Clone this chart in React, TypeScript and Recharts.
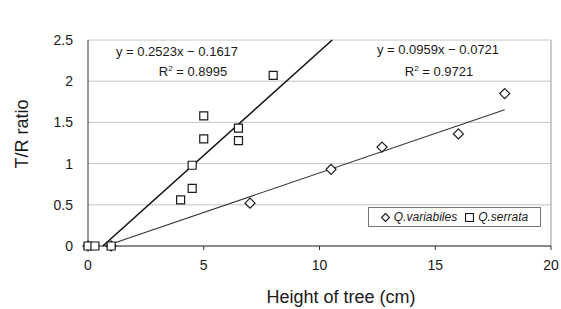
import React from "react";
import {
  ScatterChart,
  Scatter,
  XAxis,
  YAxis,
  ZAxis,
  CartesianGrid,
  ReferenceLine,
  Legend,
} from "recharts";

// ---- data ----
const serrataX = [0, 0.3, 1, 4, 4.5, 4.5, 5, 5, 6.5, 6.5, 8];
const serrataY = [0, 0, 0, 0.56, 0.7, 0.98, 1.3, 1.58, 1.43, 1.28, 2.07];
const variabilesX = [0, 1, 7, 10.5, 12.7, 16, 18];
const variabilesY = [0, 0, 0.52, 0.93, 1.2, 1.36, 1.85];

const serrataFit = { slope: 0.2523, intercept: -0.1617, r2: 0.8995 };
const variabilesFit = { slope: 0.0959, intercept: -0.0721, r2: 0.9721 };

const xTicks = [0, 5, 10, 15, 20];
const yTicks = [0, 0.5, 1, 1.5, 2, 2.5];
const X_MAX = 20;
const Y_MAX = 2.5;

const serrataData = serrataX.map((x, i) => ({ x, y: serrataY[i] }));
const variabilesData = variabilesX.map((x, i) => ({ x, y: variabilesY[i] }));

function fitLine(fit: { slope: number; intercept: number }, xs: number[], extendToTop: boolean) {
  const x0 = Math.max(Math.min(...xs), -fit.intercept / fit.slope);
  const x1 = extendToTop ? (Y_MAX - fit.intercept) / fit.slope : Math.max(...xs);
  return [
    { x: x0, y: fit.slope * x0 + fit.intercept },
    { x: x1, y: fit.slope * x1 + fit.intercept },
  ];
}

const serrataTrend = fitLine(serrataFit, serrataX, true);
const variabilesTrend = fitLine(variabilesFit, variabilesX, false);

const FONT = "'Liberation Sans', Arial, sans-serif";
const INK = "#1a1a1a";

const fmtEq = (f: { slope: number; intercept: number }) =>
  `y = ${f.slope.toFixed(4)}x \u2212 ${Math.abs(f.intercept).toFixed(4)}`;

const NoShape = () => <g />;

const DiamondShape = (props: any) => {
  const { cx, cy } = props;
  const r = 5;
  return (
    <polygon
      points={`${cx},${cy - r} ${cx + r},${cy} ${cx},${cy + r} ${cx - r},${cy}`}
      fill="#fff"
      stroke={INK}
      strokeWidth={1.2}
    />
  );
};

const LegendBox = () => (
  <div
    style={{
      border: "1px solid #777",
      background: "#fff",
      height: 18,
      display: "flex",
      alignItems: "center",
      justifyContent: "center",
      gap: 8,
      fontFamily: FONT,
      fontSize: 12,
      fontStyle: "italic",
      color: INK,
    }}
  >
    <span style={{ display: "flex", alignItems: "center", gap: 4 }}>
      <svg width={9} height={9}>
        <polygon points="4.5,0.5 8.5,4.5 4.5,8.5 0.5,4.5" fill="#fff" stroke={INK} strokeWidth={1.2} />
      </svg>
      Q.variabiles
    </span>
    <span style={{ display: "flex", alignItems: "center", gap: 4 }}>
      <svg width={9} height={9}>
        <rect x={0.5} y={0.5} width={8} height={8} fill="#fff" stroke={INK} strokeWidth={1.2} />
      </svg>
      Q.serrata
    </span>
  </div>
);

const textStyle: React.CSSProperties = {
  position: "absolute",
  fontFamily: FONT,
  fontSize: 13,
  color: INK,
  whiteSpace: "nowrap",
  transform: "translate(-50%, -50%)",
  lineHeight: "14px",
};

export default function App() {
  return (
    <div style={{ position: "absolute", left: 0, top: 0, width: 561, height: 309, background: "#fff" }}>
      <ScatterChart
        width={561}
        height={309}
        margin={{ top: 20, right: 10, bottom: 0, left: 0 }}
        style={{ fontFamily: FONT }}
      >
        <CartesianGrid vertical={false} stroke="#c4c4c4" />
        <XAxis
          type="number"
          dataKey="x"
          domain={[0, X_MAX]}
          ticks={xTicks}
          height={63}
          stroke="#333"
          tickSize={4}
          tickMargin={10}
          tick={{ fill: INK, fontSize: 14 }}
        />
        <YAxis
          type="number"
          dataKey="y"
          domain={[0, Y_MAX]}
          ticks={yTicks}
          width={88}
          stroke="#333"
          tickLine={false}
          tickSize={0}
          tickMargin={15}
          tick={{ fill: INK, fontSize: 14 }}
        />
        <ZAxis range={[64, 64]} />
        <ReferenceLine x={X_MAX} stroke="#999" />
        <Legend
          layout="horizontal"
          verticalAlign="top"
          align="left"
          wrapperStyle={{ left: 368, top: 207, width: 173 }}
          content={() => <LegendBox />}
        />
        <Scatter
          name="Q.serrata trend"
          data={serrataTrend}
          line={{ stroke: "#111", strokeWidth: 1.6 }}
          shape={NoShape}
          isAnimationActive={false}
          legendType="none"
        />
        <Scatter
          name="Q.variabiles trend"
          data={variabilesTrend}
          line={{ stroke: "#333", strokeWidth: 1.1 }}
          shape={NoShape}
          isAnimationActive={false}
          legendType="none"
        />
        <Scatter
          name="Q.variabiles"
          data={variabilesData}
          shape={DiamondShape}
          isAnimationActive={false}
        />
        <Scatter
          name="Q.serrata"
          data={serrataData}
          shape="square"
          fill="#fff"
          stroke={INK}
          strokeWidth={1.2}
          isAnimationActive={false}
        />
      </ScatterChart>

      <div style={{ ...textStyle, left: 177, top: 52 }}>{fmtEq(serrataFit)}</div>
      <div style={{ ...textStyle, left: 193, top: 72 }}>
        R<sup style={{ fontSize: 8, verticalAlign: "top", lineHeight: "8px" }}>2</sup> = {serrataFit.r2.toFixed(4)}
      </div>
      <div style={{ ...textStyle, left: 438, top: 50 }}>{fmtEq(variabilesFit)}</div>
      <div style={{ ...textStyle, left: 439, top: 72 }}>
        R<sup style={{ fontSize: 8, verticalAlign: "top", lineHeight: "8px" }}>2</sup> = {variabilesFit.r2.toFixed(4)}
      </div>

      <div style={{ ...textStyle, fontSize: 18, lineHeight: "20px", left: 341, top: 297 }}>Height of tree (cm)</div>
      <div
        style={{
          ...textStyle,
          fontSize: 18,
          lineHeight: "20px",
          left: 22,
          top: 134,
          transform: "translate(-50%, -50%) rotate(-90deg)",
        }}
      >
        T/R ratio
      </div>
    </div>
  );
}
